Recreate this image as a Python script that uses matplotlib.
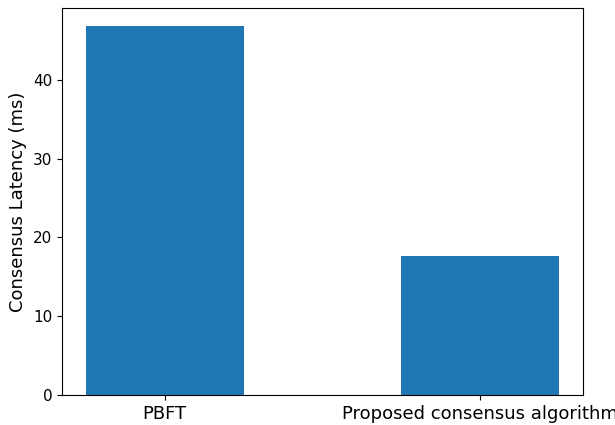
import matplotlib
matplotlib.use('Agg')
import matplotlib.pyplot as plt

# 共识延迟对比
algorithms = ['PBFT', 'Proposed consensus algorithm']
latency_ms = [46.8, 17.7]

fig = plt.figure(figsize=(6.15, 4.25), dpi=100)
ax = fig.add_axes([62 / 615, 30 / 425, 521 / 615, 387 / 425])

ax.bar(algorithms, latency_ms, width=0.5, color='#1f77b4')
ax.set_ylabel('Consensus Latency (ms)', fontsize=13)
ax.tick_params(axis='x', labelsize=13)
ax.tick_params(axis='y', labelsize=11)

fig.savefig('out.png', dpi=100)
